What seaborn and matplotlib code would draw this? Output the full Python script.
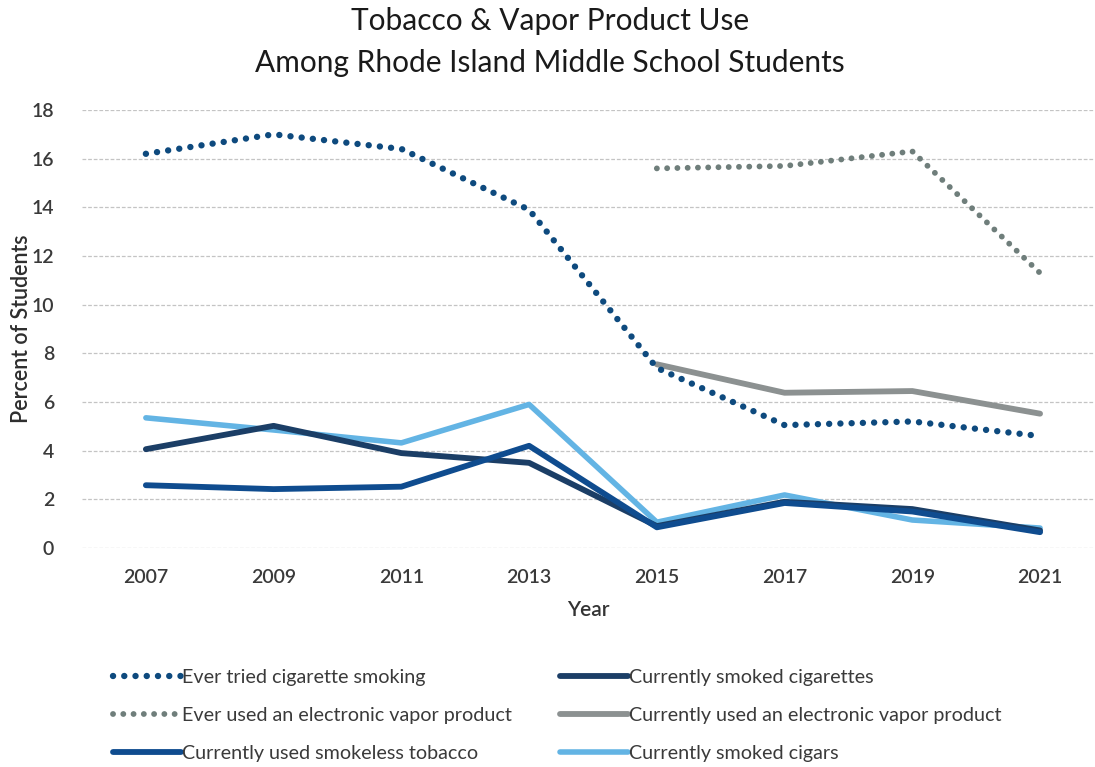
import matplotlib
matplotlib.use("Agg")
import matplotlib.pyplot as plt
import seaborn as sns
import numpy as np
import pandas as pd

# Survey years and percent of students
years = [2007, 2009, 2011, 2013, 2015, 2017, 2019, 2021]
ever_tried_cigarettes = [16.2, 17.0, 16.4, 13.9, 7.4, 5.05, 5.2, 4.6]
ever_used_vapor = [np.nan, np.nan, np.nan, np.nan, 15.6, 15.7, 16.3, 11.3]
current_smokeless = [2.58, 2.42, 2.52, 4.2, 0.85, 1.85, 1.5, 0.65]
current_cigarettes = [4.06, 5.02, 3.9, 3.5, 0.9, 1.9, 1.6, 0.72]
current_vapor = [np.nan, np.nan, np.nan, np.nan, 7.55, 6.38, 6.45, 5.52]
current_cigars = [5.35, 4.85, 4.32, 5.9, 1.06, 2.18, 1.15, 0.82]

series_labels = [
    "Ever tried cigarette smoking",
    "Ever used an electronic vapor product",
    "Currently used smokeless tobacco",
    "Currently smoked cigarettes",
    "Currently used an electronic vapor product",
    "Currently smoked cigars",
]
y_ticks = [0, 2, 4, 6, 8, 10, 12, 14, 16, 18]

sns.set_theme(style="white")
plt.rcParams["font.family"] = ["Lato", "DejaVu Sans"]

fig = plt.figure(figsize=(10.95, 7.67), dpi=100)
W, H = 1095, 767
ax = fig.add_axes([82 / W, 1 - 548 / H, (W - 82) / W, (548 - 110) / H])

dot_style = (0, (0.01, 1.75))
styles = {
    series_labels[0]: dict(values=ever_tried_cigarettes, color="#0e4a7e", ls=dot_style, lw=4.6, z=6),
    series_labels[1]: dict(values=ever_used_vapor, color="#6f7e7b", ls=dot_style, lw=4.2, z=5),
    series_labels[2]: dict(values=current_smokeless, color="#0f4c8f", ls="-", lw=4.2, z=4),
    series_labels[3]: dict(values=current_cigarettes, color="#1b3e66", ls="-", lw=4.2, z=3),
    series_labels[4]: dict(values=current_vapor, color="#8c9191", ls="-", lw=4.2, z=2),
    series_labels[5]: dict(values=current_cigars, color="#63b4e4", ls="-", lw=4.0, z=2.5),
}

handles = []
for label in series_labels:
    s = styles[label]
    df = pd.DataFrame({"year": years, "pct": s["values"]}).dropna()
    sns.lineplot(data=df, x="year", y="pct", ax=ax, color=s["color"],
                 linewidth=s["lw"], label=label, zorder=s["z"])
    line = ax.get_lines()[-1]
    line.set_linestyle(s["ls"])
    line.set_dash_capstyle("round")
    line.set_solid_capstyle("round")
    line.set_solid_joinstyle("round")
    handles.append(line)

ax.get_legend().remove()

ax.set_xlim(2006, 2021.86)
ax.set_ylim(0, 18)
ax.set_xticks(years)
ax.set_yticks(y_ticks)
ax.tick_params(axis="both", length=0, labelsize=14, labelcolor="#3a3a3a")
ax.tick_params(axis="y", pad=20)
ax.tick_params(axis="x", pad=15)
for lbl in ax.get_xticklabels() + ax.get_yticklabels():
    lbl.set_fontweight("semibold")
for spine in ax.spines.values():
    spine.set_visible(False)
ax.yaxis.grid(True, color="#c4c4c4", linestyle=(0, (3, 1.5)), linewidth=0.9)
ax.xaxis.grid(False)
ax.set_axisbelow(True)

ax.set_xlabel("Year", fontsize=15, color="#333333", labelpad=10,
              fontweight="semibold")
ax.set_ylabel("Percent of Students", fontsize=15.5, color="#2e2e2e", labelpad=0,
              fontweight="semibold")

fig.text(550 / W, 1 - 21 / H, "Tobacco & Vapor Product Use",
         ha="center", va="center", fontsize=21.5, color="#1a1a1a")
fig.text(550 / W, 1 - 63 / H, "Among Rhode Island Middle School Students",
         ha="center", va="center", fontsize=21.5, color="#1a1a1a")

fig.legend(handles=handles, labels=series_labels, ncol=2,
           loc="upper left", bbox_to_anchor=(95 / W, 1 - 651 / H),
           frameon=False, fontsize=14.2, handlelength=3.45, handletextpad=0.05,
           columnspacing=2.45, labelspacing=1.08, labelcolor="#3a3a3a")

fig.savefig("out.png", dpi=100, facecolor="white")
